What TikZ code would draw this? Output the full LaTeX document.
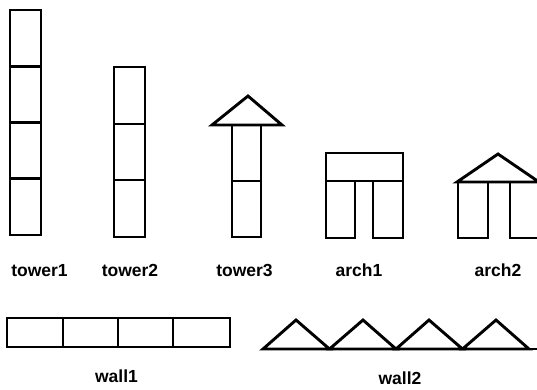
\documentclass[tikz,border=0pt]{standalone}
\usepackage{fontspec}
\setmainfont{Liberation Sans}
\begin{document}
\begin{tikzpicture}[x=1pt,y=-1pt,
  blk/.style={draw=black,line width=2.9pt,line join=miter},
  lbl/.style={font=\bfseries\fontsize{17.5}{19}\selectfont,anchor=base,inner sep=0pt}]
\useasboundingbox (0,0) rectangle (537,390);
\begin{scope}
\clip (0,0) rectangle (537,390);
% tower1
\draw[blk] (10,10) rectangle (41,66.3);
\draw[blk] (10,66.3) rectangle (41,122.5);
\draw[blk] (10,122.5) rectangle (41,178.8);
\draw[blk] (10,178.8) rectangle (41,235);
% tower2
\draw[blk] (114,67) rectangle (145,124);
\draw[blk] (114,124) rectangle (145,180);
\draw[blk] (114,180) rectangle (145,237);
% tower3
\draw[blk] (232,125) rectangle (261,181);
\draw[blk] (232,181) rectangle (261,237);
\draw[blk] (212,125) -- (248,96) -- (282,125) -- cycle;
% arch1
\draw[blk] (326,153) rectangle (403,181);
\draw[blk] (326,181) rectangle (355,238);
\draw[blk] (373,181) rectangle (403,238);
% arch2
\draw[blk] (458,182) rectangle (488,238);
\draw[blk] (510,182) rectangle (540,238);
\draw[blk] (457,182) -- (498,154) -- (539,182) -- cycle;
% wall1
\draw[blk] (7,318) rectangle (63,347);
\draw[blk] (63,318) rectangle (118,347);
\draw[blk] (118,318) rectangle (173,347);
\draw[blk] (173,318) rectangle (230,347);
% wall2
\draw[blk] (263,349) -- (296,320) -- (329.5,349) -- cycle;
\draw[blk] (329.5,349) -- (363,320) -- (396,349) -- cycle;
\draw[blk] (396,349) -- (429,320) -- (462.5,349) -- cycle;
\draw[blk] (462.5,349) -- (496,320) -- (529,349) -- cycle;
\draw[blk] (529,349) -- (545,349);
\end{scope}
% labels
\node[lbl] (l1) at (39.5,276) {tower1};
\node[lbl] (l2) at (130,276) {tower2};
\node[lbl] (l3) at (244.5,276) {tower3};
\node[lbl] (l4) at (359,276) {arch1};
\node[lbl] (l5) at (498,276) {arch2};
\node[lbl] (l6) at (116.5,382) {wall1};
\node[lbl] (l7) at (400,384) {wall2};
\end{tikzpicture}
\end{document}
